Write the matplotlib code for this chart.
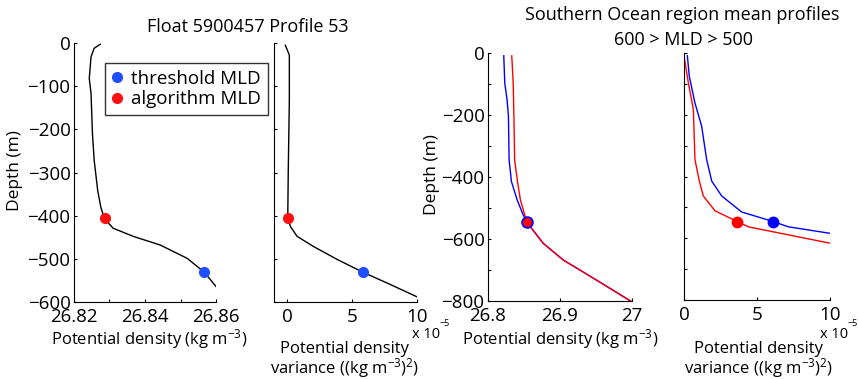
import numpy as np
import matplotlib
matplotlib.use('Agg')
from matplotlib import pyplot as plt
from matplotlib.ticker import FixedLocator, FuncFormatter

plt.rcParams['font.family'] = ['Open Sans', 'DejaVu Sans']
plt.rcParams['mathtext.default'] = 'regular'
plt.rcParams['font.size'] = 12

# float profile: potential density vs depth
float_depth = [-3, -12, -32, -82, -117, -211, -273, -343, -382, -407, -429, -448, -468, -499, -531, -567]
float_dens = [26.8274, 26.8257, 26.8248, 26.8243, 26.8248, 26.8252, 26.8257, 26.8267, 26.8276,
              26.8286, 26.8310, 26.8367, 26.8443, 26.8519, 26.8567, 26.8603]
# float profile: density variance (x 1e-5) vs depth
var_depth = [-5, -28, -133, -289, -398, -407, -425, -448, -472, -502, -531, -557, -588]
var_vals = [-0.13, 0.18, 0.18, 0.10, 0.06, 0.10, 0.26, 0.78, 2.07, 3.90, 5.84, 7.77, 10.0]
float_thr = (26.8567, 5.84, -531)
float_alg = (26.8286, 0.10, -405)

# Southern Ocean mean profiles
so_depth_b = [-9, -97, -151, -205, -345, -415, -474, -522, -549, -614, -668, -733, -800]
so_dens_b = [26.8219, 26.8233, 26.8265, 26.8284, 26.8293, 26.8326, 26.8405, 26.8488, 26.855,
             26.8767, 26.9047, 26.951, 26.998]
so_depth_r = [-9, -97, -205, -345, -415, -474, -522, -549, -614, -668, -733, -800]
so_dens_r = [26.833, 26.835, 26.836, 26.837, 26.841, 26.845, 26.851, 26.855,
             26.8767, 26.9047, 26.951, 26.998]
so_var_depth_b = [-9, -75, -162, -237, -345, -415, -463, -515, -546, -563, -584]
so_var_b = [0.23, 0.36, 0.75, 1.21, 1.55, 1.90, 2.58, 3.95, 6.12, 7.15, 10.0]
so_var_depth_r = [-9, -97, -183, -345, -415, -463, -511, -546, -563, -616]
so_var_r = [0.0, 0.30, 0.64, 0.75, 1.05, 1.32, 2.12, 3.65, 4.41, 10.0]
so_thr = (26.854, 6.12, -546)
so_alg = (26.854, 3.65, -546)

W, H = 858, 379
fig = plt.figure(figsize=(W / 100, H / 100), dpi=100)


def ax_at(l, t, r, b):
    return fig.add_axes([l / W, 1 - b / H, (r - l) / W, (b - t) / H])


def ftext(x, y, s, **kw):
    fig.text(x / W, 1 - y / H, s, ha=kw.pop('ha', 'center'), va=kw.pop('va', 'center'), **kw)


def style(ax):
    for s in ['top', 'right']:
        ax.spines[s].set_visible(False)
    for s in ['left', 'bottom']:
        ax.spines[s].set_linewidth(0.8)
    ax.tick_params(direction='in', length=2.5, width=0.8, labelsize=13.5)
    ax.tick_params(axis='x', pad=4.5)
    ax.tick_params(axis='y', pad=2.5)


ax1 = ax_at(74, 43, 216, 302)
ax2 = ax_at(274, 43, 417, 302)
ax3 = ax_at(488, 53, 632, 301)
ax4 = ax_at(684, 53, 830, 300)

ax1.plot(float_dens, float_depth, color='black', lw=1.0)
ax1.plot(float_thr[0], float_thr[2], 'o', color='#1f4fff', ms=7, label='threshold MLD')
ax1.plot(float_alg[0], float_alg[2], 'o', color='#ff1010', ms=7, label='algorithm MLD')
ax1.set_xlim(26.82, 26.86)
ax1.set_ylim(-600, 0)
ax1.xaxis.set_major_locator(FixedLocator([26.82, 26.83, 26.84, 26.85, 26.86]))
ax1.xaxis.set_major_formatter(FuncFormatter(lambda v, p: '%.2f' % v if p % 2 == 0 else ''))
ax1.set_yticks(np.arange(-600, 1, 100))
ax1.set_yticklabels(['\u2212%d' % -v if v < 0 else '0' for v in range(-600, 1, 100)])

ax2.plot(var_vals, var_depth, color='black', lw=1.0)
ax2.plot(float_alg[1], float_alg[2], 'o', color='#ff1010', ms=7)
ax2.plot(float_thr[1], float_thr[2], 'o', color='#1f4fff', ms=7)
ax2.set_xlim(-1, 10)
ax2.set_ylim(-600, 0)
ax2.set_xticks([0, 5, 10])
ax2.set_yticks(np.arange(-600, 1, 100))
ax2.set_yticklabels([])

ax3.plot(so_dens_b, so_depth_b, color='blue', lw=1.0)
ax3.plot(so_dens_r, so_depth_r, color='red', lw=1.0)
ax3.plot(so_thr[0], so_thr[2], 'o', color='blue', ms=8)
ax3.plot(so_alg[0], so_alg[2], 'o', color='red', ms=5.5)
ax3.set_xlim(26.8, 27)
ax3.set_ylim(-800, 0)
ax3.set_xticks([26.8, 26.9, 27])
ax3.set_xticklabels(['26.8', '26.9', '27'])
ax3.set_yticks(np.arange(-800, 1, 100))
ax3.set_yticklabels(['\u2212%d' % -v if v % 200 == 0 and v < 0 else ('0' if v == 0 else '')
                     for v in range(-800, 1, 100)])

ax4.plot(so_var_b, so_var_depth_b, color='blue', lw=1.0)
ax4.plot(so_var_r, so_var_depth_r, color='red', lw=1.0)
ax4.plot(so_thr[1], so_thr[2], 'o', color='blue', ms=7.5)
ax4.plot(so_alg[1], so_alg[2], 'o', color='red', ms=7.5)
ax4.set_xlim(0, 10)
ax4.set_ylim(-800, 0)
ax4.set_xticks([0, 5, 10])
ax4.set_yticks(np.arange(-800, 1, 100))
ax4.set_yticklabels([])

for ax in (ax1, ax2, ax3, ax4):
    style(ax)

leg = ax1.legend(loc='upper left', bbox_to_anchor=(105 / W, 1 - 63 / H), bbox_transform=fig.transFigure,
                 frameon=True, fancybox=False, edgecolor='black', fontsize=13.5, handlelength=0.6,
                 handletextpad=0.45, borderpad=0.35, labelspacing=0.15, borderaxespad=0)
leg.get_frame().set_linewidth(1.0)

ftext(248, 27, 'Float 5900457 Profile 53', fontsize=13)
ftext(682, 15, 'Southern Ocean region mean profiles', fontsize=13)
ftext(684, 40, '600 > MLD > 500', fontsize=13)

ftext(15, 171, 'Depth (m)', rotation=90, fontsize=12.5)
ftext(432, 175, 'Depth (m)', rotation=90, fontsize=12.5)

ftext(149, 339, 'Potential density (kg m$^{-3}$)')
ftext(560, 339, 'Potential density (kg m$^{-3}$)')
ftext(345, 349, 'Potential density')
ftext(345, 368, 'variance ((kg m$^{-3}$)$^{2}$)')
ftext(759, 349, 'Potential density')
ftext(759, 368, 'variance ((kg m$^{-3}$)$^{2}$)')

for x0 in (412, 820):
    ftext(x0, 334, 'x 10', ha='left', fontsize=10.5)
    ftext(x0 + 27, 324, '\u22125', ha='left', fontsize=6.5)

fig.savefig('out.png', dpi=100)
